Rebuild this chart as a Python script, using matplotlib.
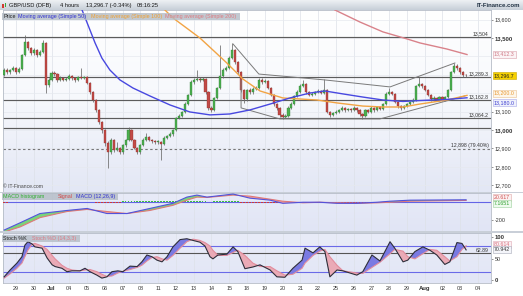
import numpy as np
import matplotlib
matplotlib.use("Agg")
import matplotlib.pyplot as plt
from matplotlib.patches import Rectangle
from matplotlib.colors import LinearSegmentedColormap
from matplotlib import transforms

plt.rcParams['font.family'] = ['Liberation Sans', 'DejaVu Sans']

# ---------------- DATA ----------------
day_labels = ["29", "30", "Jul", "04", "05", "06", "07", "08", "11", "12", "13", "14", "15",
              "18", "19", "20", "21", "22", "25", "26", "27", "28", "29", "Aug", "02", "03", "04"]

opens = [13300, 13326, 13315, 13326, 13337, 13315, 13331, 13408, 13478, 13446,
         13418, 13435, 13408, 13424, 13473, 13245, 13272, 13310, 13304, 13272,
         13283, 13272, 13277, 13293, 13283, 13272, 13288, 13283, 13288, 13255,
         13206, 13163, 13109, 13043, 13000, 12929, 12880, 12946, 12891, 12902,
         12880, 12918, 12946, 13000, 12946, 12902, 12880, 12918, 12946, 12962,
         12946, 12940, 12935, 12935, 12924, 12957, 12967, 12978, 13000, 13065,
         13076, 13098, 13141, 13190, 13261, 13272, 13277, 13272, 13277, 13206,
         13120, 13109, 13174, 13228, 13293, 13326, 13337, 13391, 13435, 13370,
         13315, 13217, 13168, 13217, 13206, 13223, 13228, 13272, 13261, 13266,
         13228, 13190, 13141, 13120, 13082, 13071, 13076, 13120, 13141, 13185,
         13206, 13239, 13250, 13206, 13190, 13196, 13206, 13212, 13201, 13217,
         13098, 13082, 13092, 13098, 13109, 13120, 13109, 13114, 13109, 13120,
         13109, 13087, 13076, 13109, 13098, 13120, 13109, 13125, 13114, 13141,
         13196, 13206, 13196, 13152, 13130, 13120, 13130, 13141, 13152, 13163,
         13239, 13250, 13239, 13217, 13190, 13168, 13174, 13163, 13179, 13168,
         13179, 13217, 13315, 13348, 13337, 13315, 13299]

closes = [13326, 13315, 13326, 13337, 13315, 13331, 13408, 13478, 13446, 13418,
          13435, 13408, 13424, 13473, 13245, 13272, 13310, 13304, 13272, 13283,
          13272, 13277, 13293, 13283, 13272, 13288, 13283, 13288, 13255, 13206,
          13163, 13109, 13043, 13000, 12929, 12880, 12946, 12891, 12902, 12880,
          12918, 12946, 13000, 12946, 12902, 12880, 12918, 12946, 12962, 12946,
          12940, 12935, 12935, 12924, 12957, 12967, 12978, 13000, 13065, 13076,
          13098, 13141, 13190, 13261, 13272, 13277, 13272, 13277, 13206, 13120,
          13109, 13174, 13228, 13293, 13326, 13337, 13391, 13435, 13370, 13315,
          13217, 13168, 13217, 13206, 13223, 13228, 13272, 13261, 13266, 13228,
          13190, 13141, 13120, 13082, 13071, 13076, 13120, 13141, 13185, 13206,
          13239, 13250, 13206, 13190, 13196, 13206, 13212, 13201, 13217, 13098,
          13082, 13092, 13098, 13109, 13120, 13109, 13114, 13109, 13120, 13109,
          13087, 13076, 13109, 13098, 13120, 13109, 13125, 13114, 13141, 13196,
          13206, 13196, 13152, 13130, 13120, 13130, 13141, 13152, 13163, 13239,
          13250, 13239, 13217, 13190, 13168, 13174, 13163, 13179, 13168, 13179,
          13217, 13315, 13348, 13337, 13315, 13299, 13296.7]

highs = [13335, 13335, 13334, 13345, 13342, 13340, 13415, 13515, 13485, 13452,
         13448, 13440, 13432, 13490, 13478, 13285, 13318, 13322, 13310, 13292,
         13290, 13286, 13302, 13298, 13290, 13295, 13335, 13295, 13292, 13260,
         13212, 13170, 13115, 13050, 13005, 12940, 12955, 12952, 12935, 12910,
         12925, 12952, 13015, 13005, 12950, 12908, 12925, 12955, 12985, 12968,
         12952, 12948, 12945, 12940, 12965, 12975, 12988, 13008, 13072, 13085,
         13105, 13150, 13198, 13270, 13282, 13326, 13290, 13288, 13282, 13212,
         13130, 13180, 13236, 13462, 13335, 13348, 13400, 13475, 13440, 13376,
         13320, 13225, 13225, 13228, 13232, 13238, 13282, 13280, 13275, 13270,
         13234, 13196, 13148, 13126, 13090, 13085, 13128, 13150, 13192, 13215,
         13248, 13272, 13256, 13212, 13205, 13214, 13220, 13218, 13277, 13222,
         13104, 13100, 13106, 13116, 13128, 13126, 13122, 13120, 13128, 13126,
         13114, 13094, 13116, 13114, 13128, 13126, 13132, 13130, 13148, 13204,
         13228, 13212, 13200, 13158, 13136, 13138, 13148, 13160, 13172, 13246,
         13288, 13258, 13245, 13222, 13196, 13182, 13180, 13186, 13184, 13186,
         13225, 13322, 13365, 13358, 13342, 13320, 13306]

lows = [13292, 13305, 13306, 13318, 13305, 13308, 13325, 13400, 13435, 13405,
        13410, 13398, 13400, 13418, 13200, 13232, 13265, 13295, 13262, 13265,
        13264, 13266, 13270, 13274, 13262, 13266, 13275, 13276, 13248, 13198,
        13150, 13100, 13035, 12985, 12915, 12795, 12870, 12880, 12885, 12868,
        12872, 12910, 12940, 12938, 12895, 12868, 12872, 12912, 12940, 12938,
        12930, 12925, 12925, 12837, 12918, 12950, 12960, 12970, 12995, 13058,
        13068, 13090, 13135, 13185, 13252, 13265, 13262, 13265, 13198, 13110,
        13098, 13102, 13168, 13220, 13285, 13318, 13330, 13385, 13360, 13305,
        13205, 13145, 13160, 13196, 13198, 13215, 13222, 13252, 13254, 13220,
        13182, 13132, 13110, 13072, 13062, 13064, 13070, 13112, 13135, 13178,
        13200, 13232, 13198, 13182, 13184, 13190, 13200, 13194, 13195, 13090,
        13070, 13075, 13085, 13090, 13102, 13100, 13102, 13100, 13102, 13100,
        13078, 13062, 13070, 13090, 13092, 13100, 13102, 13106, 13108, 13135,
        13190, 13188, 13145, 13122, 13110, 13112, 13124, 13134, 13146, 13158,
        13232, 13230, 13210, 13182, 13160, 13160, 13155, 13156, 13160, 13160,
        13172, 13210, 13308, 13328, 13306, 13290, 13288]

ma50_idx = [26.3, 28.3, 30.7, 33.0, 35.7, 39.1, 43.5, 49.2, 56.0, 62.7, 69.5, 76.2,
            83.0, 89.8, 96.5, 103.3, 108.3, 114.4, 121.1, 127.9, 134.7, 140.4, 149.5, 156.3]
ma50_val = [13652, 13571, 13473, 13391, 13326, 13272, 13228, 13185, 13136, 13098, 13082, 13087,
            13109, 13141, 13174, 13201, 13212, 13196, 13179, 13163, 13155, 13160, 13166, 13175]

ma100_idx = [54.3, 57.0, 61.1, 66.1, 71.2, 75.2, 80.6, 86.4, 94.1, 105.6, 112.4, 121.1,
             127.9, 134.7, 140.4, 149.5, 156.3]
ma100_val = [13652, 13609, 13560, 13500, 13424, 13364, 13277, 13212, 13174, 13163, 13147, 13130,
             13125, 13125, 13141, 13163, 13188]

ma200_idx = [111.7, 120.1, 127.9, 136.0, 140.4, 149.5, 156.3]
ma200_val = [13652, 13587, 13533, 13495, 13473, 13440, 13410]

level_vals = [13504, 13289.3, 13162.8, 13064.2, 13010]
level_texts = ["13,504", "13,289.3", "13,162.8", "13,064.2", ""]
fib_val = 12898
fib_text = "12,898 (79.40%)"

trend_a_idx = [77.3, 86.0, 108.3, 130.3, 152.2]
trend_a_val = [13467, 13304, 13272, 13234, 13364]
trend_b_idx = [80.0, 80.0, 93.1, 126.9, 155.6]
trend_b_val = [13272, 13120, 13060, 13060, 13185]

price_ticks = [12700, 12800, 12900, 13000, 13100, 13500, 13600]

macd_idx = [0, 5.4, 12.1, 21.2, 28, 34.7, 41.5, 49.2, 57, 61.7, 65.1, 68.5,
            77.3, 83, 89.8, 94.1, 100.9, 106.6, 112.4, 119.1, 125.9, 130.3, 137, 156]
macd_vals = [-318, -235, -129, -94, -71, -129, -129, -71, -12, 59, 82, 59,
             94, 47, 24, -12, 0, 0, -12, -12, 0, 12, 24, 28]
signal_vals = [-341, -282, -176, -106, -82, -106, -129, -94, -35, 24, 59, 55,
               82, 70, 35, 12, -6, 0, -6, -12, -6, 0, 12, 21]
hist_vals = ([-10] * 2 + [0] * 29 + [-12] * 9 + [12] * 29 + [0] * 2 + [10] * 9 +
             [-12] * 27 + [0] * 3 + [-6] * 19 + [0] * 10 + [8] * 18)

stoch_idx = [0, 2, 4.3, 6, 7, 8, 9.4, 10.4, 12.8, 14.5, 16.2, 17.2, 19.5, 21.2, 22.9, 25.6,
             27.3, 29, 31.3, 33, 34.7, 36.4, 38.4, 40.1, 42.5, 44.9, 46.5, 48.2, 49.9, 51.6,
             53.3, 55, 57, 59.4, 61.7, 63.8, 66.1, 67.8, 69.5, 70.5, 72.2, 75.2, 77.3, 78.9,
             81.3, 84, 86.4, 89.8, 92.1, 94.8, 97.5, 100.6, 101.6, 104.3, 106.6, 108.3, 110,
             112.4, 114.4, 119.1, 121.1, 124.2, 126.9, 130.3, 131.9, 134.7, 136.3, 138.7,
             141.4, 143.8, 146.1, 148.8, 150.5, 152.9, 154.6, 156]
stoch_k = [8, 24, 40, 55, 82, 90, 85, 78, 75, 52, 36, 32, 28, 20, 22, 22, 28, 20, 12, 5,
           8, 20, 22, 20, 33, 32, 43, 59, 55, 47, 43, 55, 78, 95, 97, 93, 89, 80, 55, 50,
           59, 61, 78, 67, 27, 31, 36, 24, 8, 7, 28, 47, 75, 64, 78, 67, 8, 24, 22, 12,
           20, 59, 45, 90, 75, 43, 47, 67, 78, 70, 59, 37, 43, 88, 86, 70.942]
stoch_d = [5, 15, 28, 40, 55, 70, 84, 86, 80, 72, 58, 50, 35, 28, 24, 22, 24, 25, 20, 14,
           9, 10, 17, 21, 25, 30, 35, 45, 53, 55, 50, 47, 58, 75, 90, 96, 93, 88, 80, 70,
           58, 58, 65, 70, 58, 40, 32, 32, 22, 12, 14, 28, 40, 58, 68, 72, 55, 35, 22, 17,
           16, 30, 42, 62, 72, 68, 55, 50, 62, 72, 70, 55, 45, 55, 72, 80.614]
stoch_line = 62.89

# ---------------- LAYOUT ----------------
W, H = 523, 296
fig = plt.figure(figsize=(W / 100, H / 100), dpi=100)
fig.patch.set_facecolor('white')


def frect(x0, y0, x1, y1):
    return [x0 / W, 1 - y1 / H, (x1 - x0) / W, (y1 - y0) / H]


def ftext(x, y, s, **kw):
    kw.setdefault('va', 'center')
    return fig.text(x / W, 1 - y / H, s, **kw)


def fbox(x0, y0, x1, y1, **kw):
    fig.patches.append(Rectangle((x0 / W, 1 - y1 / H), (x1 - x0) / W, (y1 - y0) / H,
                                 transform=fig.transFigure, figure=fig, **kw))


FS = 3.9
XMIN, XMAX = -0.39, 164.4
grad = np.linspace(0, 1, 64).reshape(-1, 1)

# title bar
tb = fig.add_axes(frect(0, 0, W, 10))
tb.set_axis_off()
tb.imshow(grad, cmap=LinearSegmentedColormap.from_list('tb', ['#eef1f4', '#c7cfd8']),
          aspect='auto', extent=[0, 1, 0, 1])
tb.set_xlim(0, 1); tb.set_ylim(0, 1)
fbox(2.2, 3.5, 3.8, 7.5, facecolor='#d03a30', lw=0, zorder=5)
fbox(4.6, 2.5, 6.2, 6.5, facecolor='#3aa83a', lw=0, zorder=5)
ftext(9, 5.2, "GBP/USD (DFB)", fontsize=4.1, color='#111')
ftext(60, 5.2, "4 hours", fontsize=4.1, color='#111')
ftext(86, 5.2, "13,296.7 (-0.34%)", fontsize=4.1, color='#111')
ftext(137, 5.2, "08:16:25", fontsize=4.1, color='#111')
ftext(520, 5.2, "IT-Finance.com", fontsize=4.3, color='#223344', ha='right', fontweight='bold')

ticks_x = [4 + 6 * k for k in range(len(day_labels))]


def style_axes(a):
    for s in a.spines.values():
        s.set_color('#b5bcc6')
        s.set_linewidth(0.6)
    a.set_xlim(XMIN, XMAX)
    a.set_xticks(ticks_x)
    a.tick_params(axis='x', length=0, labelbottom=False)
    for t in ticks_x:
        a.axvline(t, color='#dde1e8', lw=0.5, zorder=1)
    a.yaxis.tick_right()
    a.tick_params(axis='y', length=1.5, width=0.4, pad=1.2, labelsize=FS, colors='#444',
                  labelcolor='#333')


# ---------- price panel ----------
ax = fig.add_axes(frect(3, 10, 491, 192))
PY0, PY1 = 12663, 13652
ax.imshow(grad, cmap=LinearSegmentedColormap.from_list('pb', ['#ffffff', '#f6f8fc', '#e3e7f5']),
          aspect='auto', extent=[XMIN, XMAX, PY0, PY1], zorder=0)
style_axes(ax)
ax.set_ylim(PY0, PY1)
for v in range(12700, 13700, 100):
    ax.axhline(v, color='#e6e9ef', lw=0.5, zorder=1)

idx = np.arange(len(closes))
o = np.array(opens, float); c = np.array(closes, float)
hi = np.array(highs, float); lo = np.array(lows, float)
up = c >= o
ax.vlines(idx, lo, hi, color='#6b6b6b', lw=0.55, zorder=3)
bh = np.maximum(np.abs(c - o), 4)
ax.bar(idx, bh, bottom=np.minimum(o, c), width=0.72,
       color=np.where(up, '#4cb050', '#c24b47'),
       edgecolor=np.where(up, '#2f7a33', '#8a2c29'), lw=0.25, zorder=4)

for v in level_vals:
    ax.axhline(v, color='#5c5c5c', lw=0.85, zorder=2)
ax.axhline(fib_val, color='#777777', lw=0.8, ls=(0, (2.2, 2.2)), zorder=2)

ax.plot(trend_a_idx, trend_a_val, color='#7a7a7a', lw=0.7, zorder=5)
ax.plot(trend_b_idx, trend_b_val, color='#7a7a7a', lw=0.7, zorder=5)

ax.plot(ma200_idx, ma200_val, color='#d9828a', lw=1.0, zorder=5)
ax.plot(ma100_idx, ma100_val, color='#f2a444', lw=1.0, zorder=5)
ax.plot(ma50_idx, ma50_val, color='#4848e0', lw=1.0, zorder=5)

blend = transforms.blended_transform_factory(ax.transAxes, ax.transData)
for v, t in zip(level_vals, level_texts):
    if t:
        ax.text(0.995, v + 4, t, transform=blend, ha='right', va='bottom', fontsize=3.7,
                color='#333', zorder=7)
ax.text(0.995, fib_val + 4, fib_text, transform=blend, ha='right', va='bottom', fontsize=3.7,
        color='#333', zorder=7)

ax.set_yticks(price_ticks)
ax.set_yticklabels([f"{v:,}" for v in price_ticks])
for lab, v in zip(ax.get_yticklabels(), price_ticks):
    if v % 500 == 0:
        lab.set_fontweight('bold')
        lab.set_fontsize(4.2)


def value_box(a, y, s, fc, tc, ec):
    bl = transforms.blended_transform_factory(a.transAxes, a.transData)
    a.text(1.006, y, s, transform=bl, ha='left', va='center', fontsize=3.8, color=tc,
           bbox=dict(boxstyle='square,pad=0.18', fc=fc, ec=ec, lw=0.4), clip_on=False, zorder=8)


value_box(ax, 13412.3, "13,412.3", '#fbf3f5', '#d07a86', '#d9a0aa')
value_box(ax, 13296.7, "13,296.7", '#f5d000', '#222222', '#c9a800')
value_box(ax, 13200.0, "13,200.0", '#fdf6ea', '#e8962c', '#e8c090')
value_box(ax, 13150.0, "13,180.0", '#eef0fc', '#3c3cd0', '#a8a8e8')

# price legend
fbox(2, 13, 240, 20, facecolor='#b4bcc6', alpha=0.8, lw=0, zorder=6)
ftext(3.2, 16.6, "Price", fontsize=FS, color='#222', zorder=7)
ftext(18.5, 16.6, "Moving average (Simple 50)", fontsize=FS, color='#3030d0', zorder=7)
ftext(91, 16.6, "Moving average (Simple 100)", fontsize=FS, color='#f0a030', zorder=7)
ftext(165, 16.6, "Moving average (Simple 200)", fontsize=FS, color='#de7a80', zorder=7)
ftext(3, 187, "\u00a9 IT-Finance.com", fontsize=3.6, color='#444', zorder=7)

# ---------- MACD panel ----------
mx = fig.add_axes(frect(3, 193, 491, 231))
MY0, MY1 = -329, 106
mx.imshow(grad, cmap=LinearSegmentedColormap.from_list('mb', ['#e8ebf8', '#e1e5f5']),
          aspect='auto', extent=[XMIN, XMAX, MY0, MY1], zorder=0)
style_axes(mx)
mx.set_ylim(MY0, MY1)
mx.axhline(0, color='#6464e6', lw=0.8, zorder=2)
hv = np.array(hist_vals, float)
mx.bar(idx, hv, width=0.62, color=np.where(hv >= 0, '#3cc03c', '#cc3a3a'), lw=0, zorder=3)
mi = np.array(macd_idx, float); mv = np.array(macd_vals, float); sv = np.array(signal_vals, float)
mx.fill_between(mi, mv, sv, where=mv >= sv, interpolate=True, color='#7ad47a', lw=0, zorder=3)
mx.fill_between(mi, mv, sv, where=mv < sv, interpolate=True, color='#eba0a0', lw=0, zorder=3)
mx.plot(mi, sv, color='#e07878', lw=0.8, zorder=4)
mx.plot(mi, mv, color='#5252dc', lw=0.8, zorder=5)
mx.set_yticks([-200])
mx.set_yticklabels(["-200"])
value_box(mx, 55, "20.617", '#fbf0f0', '#d05050', '#e0a8a8')
value_box(mx, -12, "7.1651", '#eefaee', '#30a030', '#9ad09a')
fbox(2, 193.3, 118, 199.6, facecolor='#b4bcc6', alpha=0.8, lw=0, zorder=6)
ftext(3.2, 196.6, "MACD histogram", fontsize=FS, color='#2fb02f', zorder=7)
ftext(57.5, 196.6, "Signal", fontsize=FS, color='#d04848', zorder=7)
ftext(76, 196.6, "MACD (12,26,9)", fontsize=FS, color='#3030d0', zorder=7)

# ---------- Stochastic panel ----------
sx = fig.add_axes(frect(3, 233, 491, 283))
SY0, SY1 = -6.4, 110.4
sx.imshow(grad, cmap=LinearSegmentedColormap.from_list('sb', ['#e9ecf8', '#e2e6f6']),
          aspect='auto', extent=[XMIN, XMAX, SY0, SY1], zorder=0)
style_axes(sx)
sx.set_ylim(SY0, SY1)
sx.axhline(80, color='#6a6ae8', lw=0.8, zorder=2)
sx.axhline(20, color='#6a6ae8', lw=0.8, zorder=2)
sx.axhline(stoch_line, color='#555555', lw=0.8, zorder=2)
si = np.array(stoch_idx, float); sk = np.array(stoch_k, float); sd = np.array(stoch_d, float)
sx.fill_between(si, sk, sd, where=sk >= sd, interpolate=True, color='#7a7ae2', lw=0, zorder=3)
sx.fill_between(si, sk, sd, where=sk < sd, interpolate=True, color='#eaaab6', lw=0, zorder=3)
sx.plot(si, sd, color='#e28c9c', lw=0.8, zorder=4)
sx.plot(si, sk, color='#2e2e3a', lw=0.8, zorder=5)
sx.set_yticks([0, 50, 100])
sx.set_yticklabels(["0", "50", "100"])
for lab, v in zip(sx.get_yticklabels(), [0, 50, 100]):
    if v != 50:
        lab.set_fontweight('bold')
        lab.set_fontsize(4.2)
blend_s = transforms.blended_transform_factory(sx.transAxes, sx.transData)
sx.text(0.995, stoch_line + 1.5, "62.89", transform=blend_s, ha='right', va='bottom',
        fontsize=3.7, color='#333', zorder=7)
value_box(sx, 84, "80.614", '#fbf0f3', '#d8707e', '#e0a8b4')
value_box(sx, 70.942, "70.942", '#f4f5fa', '#333333', '#a8aab8')
fbox(2, 235.3, 80, 241.8, facecolor='#b4bcc6', alpha=0.8, lw=0, zorder=6)
ftext(3.2, 238.6, "Stoch %K", fontsize=FS, color='#222', zorder=7)
ftext(32, 238.6, "Stoch %D (14,3,3)", fontsize=FS, color='#de7a86', zorder=7)

# x labels
sx.tick_params(axis='x', labelbottom=True, labelsize=FS, pad=2.0, labelcolor='#333')
sx.set_xticklabels(day_labels)
for lab, t in zip(sx.get_xticklabels(), day_labels):
    if t in ("Jul", "Aug"):
        lab.set_fontweight('bold')
        lab.set_fontsize(4.2)

# separators between panels
fbox(0, 191.6, W, 193.0, facecolor='#c9cfd8', lw=0, zorder=9)
fbox(0, 231.0, W, 233.0, facecolor='#c9cfd8', lw=0, zorder=9)

fig.savefig("out.png", dpi=100)
